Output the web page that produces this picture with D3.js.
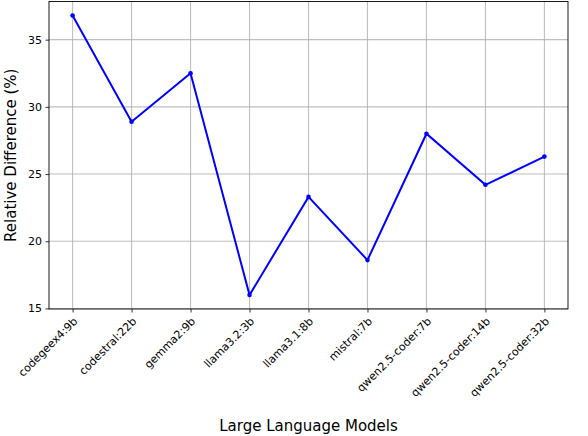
<!DOCTYPE html><html><head><script src="https://cdn.jsdelivr.net/npm/d3@7"></script>
<style>body{margin:0;background:#fff}</style></head><body><svg id="c" width="588" height="436"></svg>
<script>
const models=["codegeex4:9b","codestral:22b","gemma2:9b","llama3.2:3b","llama3.1:8b","mistral:7b","qwen2.5-coder:7b","qwen2.5-coder:14b","qwen2.5-coder:32b"];
const values=[36.8,28.9,32.5,16.0,23.3,18.6,28.0,24.2,26.3];
const yTicks=[15,20,25,30,35];
const svg=d3.select("#c");
const L=49,R=568,T=1.5,B=309;
const x=d3.scaleLinear().domain([-0.4,8.4]).range([L,R]);
const y=d3.scaleLinear().domain([14.96,37.84]).range([B,T]);
const f="DejaVu Sans, sans-serif";
const g=svg.append("g");
models.forEach((m,i)=>g.append("line").attr("x1",x(i)).attr("x2",x(i)).attr("y1",T).attr("y2",B).attr("stroke","#b0b0b0").attr("stroke-width",1.1).attr("opacity",0.8));
yTicks.forEach(t=>g.append("line").attr("x1",L).attr("x2",R).attr("y1",y(t)).attr("y2",y(t)).attr("stroke","#b0b0b0").attr("stroke-width",1.1).attr("opacity",0.8));
const ya=svg.append("g").attr("transform",`translate(${L},0)`).call(d3.axisLeft(y).tickValues(yTicks).tickSize(3.5).tickPadding(3.5));
ya.selectAll("text").style("font-family",f).style("font-size","11px").attr("fill","#000");
const xa=svg.append("g").attr("transform",`translate(0,${B})`).call(d3.axisBottom(x).tickValues(d3.range(models.length)).tickFormat(i=>models[i]).tickSize(3.5));
xa.selectAll("text").style("font-family",f).style("font-size","11px").attr("fill","#000").attr("text-anchor","end").attr("dy","0").attr("dx","0").attr("y",0).attr("transform","translate(5,13) rotate(-45)");
svg.selectAll(".domain").remove();
svg.selectAll(".tick line").attr("stroke","#000").attr("stroke-width",0.8);
svg.append("rect").attr("x",L).attr("y",T).attr("width",R-L).attr("height",B-T).attr("fill","none").attr("stroke","#000").attr("stroke-width",0.9);
svg.append("path").datum(values).attr("d",d3.line().x((d,i)=>x(i)).y(d=>y(d))).attr("fill","none").attr("stroke","#0000ff").attr("stroke-width",2);
svg.selectAll(".pt").data(values).join("circle").attr("cx",(d,i)=>x(i)).attr("cy",d=>y(d)).attr("r",2.3).attr("fill","#0000ff");
svg.append("text").attr("x",(L+R)/2).attr("y",431).attr("text-anchor","middle").style("font-family",f).style("font-size","15px").text("Large Language Models");
svg.append("text").attr("transform",`translate(16,${(T+B)/2}) rotate(-90)`).attr("text-anchor","middle").style("font-family",f).style("font-size","15px").text("Relative Difference (%)");
</script></body></html>
